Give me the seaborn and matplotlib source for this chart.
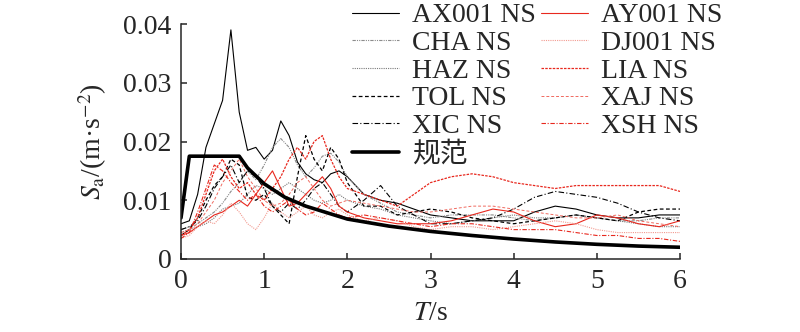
import numpy as np
import pandas as pd
import matplotlib
matplotlib.use("Agg")
import matplotlib.pyplot as plt
import seaborn as sns

# period T (s)
T = [0, 0.1, 0.2, 0.3, 0.4, 0.5, 0.6, 0.7, 0.8, 0.9, 1.0, 1.1, 1.2, 1.3, 1.4, 1.5,
     1.6, 1.7, 1.8, 1.9, 2.0, 2.2, 2.4, 2.6, 2.8, 3.0, 3.25, 3.5, 3.75, 4.0, 4.25,
     4.5, 4.75, 5.0, 5.25, 5.5, 5.75, 6.0]

# spectral acceleration, in 1e-3 m/s^2
ax001 = [6.0, 6.5, 11, 19, 23, 27, 39, 25, 18.5, 19, 17, 18.5, 23.5, 21, 16.5, 14.5,
         13.5, 13, 14.5, 15, 14, 11, 10, 9.5, 8.5, 7.5, 7, 6.5, 6.5, 6.5, 8,
         9, 8.5, 7.5, 7, 7, 7.5, 7.5]
cha = [5, 5.5, 6, 7, 8, 9.5, 11.5, 13, 15, 13.5, 16, 19, 20.5, 19, 16, 14,
       15.5, 17.5, 18, 16.5, 14, 11, 9.5, 8, 7.5, 7, 7.5, 7.5, 7.5, 7, 6.5,
       7, 7.5, 7, 6.5, 6.5, 7, 7]
haz = [4.5, 5, 5.5, 6, 7, 8.5, 9, 9.5, 11, 12.5, 12, 11, 12, 13, 12, 11,
       10, 9.5, 10, 11, 10, 9, 8.5, 7.5, 7, 6.5, 6, 6.5, 7, 7.5, 7,
       7, 7.5, 7, 6.5, 6, 5.5, 5.5]
tol = [4, 5, 7, 10, 12.5, 14, 17, 16, 10.5, 10, 11, 9, 7.5, 6, 14, 21,
       17, 15, 19, 17, 13, 9, 9, 7.5, 8, 8.5, 8, 7, 6.5, 6, 6.5,
       7, 7.5, 7, 6.5, 8, 8.5, 8.5]
xic = [5, 5.5, 6.5, 9, 12, 14, 16, 13, 15, 14, 12, 9, 8, 9.5, 8.5, 10,
       12, 13, 11, 9, 8, 10, 12.5, 9, 7.5, 6, 6, 6.5, 7, 8.5, 10.5,
       11.5, 11, 10.5, 9.5, 8, 7, 6.5]
ay001 = [4, 4.5, 5.5, 6.5, 7.5, 8, 9, 10, 9, 11, 13, 15, 12, 9, 9.5, 11,
         12.5, 14, 12, 9, 8, 7, 6.5, 6, 6, 6, 6.5, 7.5, 8.5, 8, 6.5,
         5.5, 6, 7.5, 7, 6, 5.5, 6.5]
dj001 = [3.5, 4, 5.5, 6.5, 6, 7.5, 9.5, 8, 6, 5, 7, 9.5, 8, 7, 8, 9,
         7.5, 7, 8, 8.5, 7.5, 6.5, 7, 6.5, 5.5, 5, 5.5, 5.5, 5, 5.5, 6,
         6.5, 6, 5, 4.5, 4.5, 4.5, 4.5]
lia = [4, 5, 7, 11, 15, 17, 14, 12, 13, 11, 10, 12, 14, 17, 19, 17,
       20, 21, 17, 14, 12, 11, 10, 9, 11, 13, 14, 14.5, 14, 13, 12.5,
       12, 12.5, 12.5, 12.5, 12.5, 12.5, 11.5]
xaj = [4.5, 5, 6, 8, 10, 13, 15, 17, 14, 12, 10, 9, 9.5, 11, 13, 14,
       12, 10, 9, 9.5, 10, 9.5, 9, 8.5, 8, 8, 8.5, 9, 9, 8.5, 8,
       7.5, 7, 7, 7.5, 6.5, 6, 5.5]
xsh = [3.5, 4.5, 8, 12, 16, 15, 13, 11.5, 10, 11, 9, 8, 9, 10, 8.5, 7.5,
       8, 9.5, 8.5, 7.5, 7, 7.5, 7, 6.5, 6, 5.5, 6, 6, 5.5, 5, 5,
       5, 4.5, 4, 4, 3.5, 3.5, 3]

# design (code) spectrum
T_code = [0, 0.1, 0.7, 0.8, 1.0, 1.25, 1.5, 2.0, 2.5, 3.0, 3.5, 4.0, 4.5, 5.0, 5.5, 6.0]
sa_code = [7.0, 17.5, 17.5, 15.5, 12.8, 10.5, 9.0, 6.8, 5.6, 4.7, 4.0, 3.4, 2.9, 2.5, 2.2, 2.0]

records = [
    ("AX001 NS", ax001, "black", "-", 0.8),
    ("CHA NS", cha, "#8c8c8c", (0, (3, 1, 1, 1, 1, 1)), 0.8),
    ("HAZ NS", haz, "#7a7a7a", (0, (1, 1)), 0.8),
    ("TOL NS", tol, "black", (0, (3, 2)), 0.9),
    ("XIC NS", xic, "black", (0, (5, 2, 1, 2)), 0.8),
    ("AY001 NS", ay001, "#e8281e", "-", 0.8),
    ("DJ001 NS", dj001, "#f29a90", (0, (1, 1)), 0.8),
    ("LIA NS", lia, "#e8281e", (0, (2, 1)), 0.9),
    ("XAJ NS", xaj, "#f06a60", (0, (3, 2)), 0.7),
    ("XSH NS", xsh, "#e8281e", (0, (4, 1.5, 1, 1.5)), 0.8),
]

sns.set_style("ticks")
plt.rcParams["font.family"] = ["Liberation Serif", "Noto Sans CJK SC"]
plt.rcParams["mathtext.fontset"] = "stix"

fig = plt.figure(figsize=(8, 3.32), dpi=100)
ax = fig.add_axes([181 / 800, 1 - 259 / 332, 499 / 800, 235 / 332])

t = np.asarray(T)
lines = {}
for name, vals, color, ls, lw in records:
    sns.lineplot(x=t, y=np.asarray(vals) * 1e-3, ax=ax, color=color, linestyle=ls,
                 linewidth=lw, errorbar=None, sort=False)
    lines[name] = ax.get_lines()[-1]

sns.lineplot(x=np.asarray(T_code), y=np.asarray(sa_code) * 1e-3, ax=ax, color="black",
             linewidth=2.6, errorbar=None, sort=False)
lines["规范"] = ax.get_lines()[-1]

ax.set_xlim(0, 6)
ax.set_ylim(0, 0.04)
ax.set_xticks(range(7))
ax.set_yticks([0, 0.01, 0.02, 0.03, 0.04])
ax.set_yticklabels(["0", "0.01", "0.02", "0.03", "0.04"])
ax.tick_params(direction="in", length=4.5, width=1.1, labelsize=20, pad=7)
for s in ["left", "bottom"]:
    ax.spines[s].set_linewidth(1.1)
sns.despine(ax=ax)

ax.set_xlabel("$T$/s", fontsize=20)
ax.set_ylabel("$S_\\mathrm{a}$/(m·s$^{-2}$)", fontsize=20)
ax.xaxis.set_label_coords(0.5, -0.18)
ax.yaxis.set_label_coords(-0.145, 0.5)

order = ["AX001 NS", "CHA NS", "HAZ NS", "TOL NS", "XIC NS", "规范",
         "AY001 NS", "DJ001 NS", "LIA NS", "XAJ NS", "XSH NS"]
fig.legend([lines[k] for k in order], order, loc="upper left",
           bbox_to_anchor=(352 / 800, 1 - 3 / 332), ncol=2, frameon=False,
           fontsize=20, labelspacing=0.08, handlelength=1.7, handletextpad=0.45,
           columnspacing=0.2, borderpad=0, borderaxespad=0)

fig.savefig("out.png", dpi=100)
